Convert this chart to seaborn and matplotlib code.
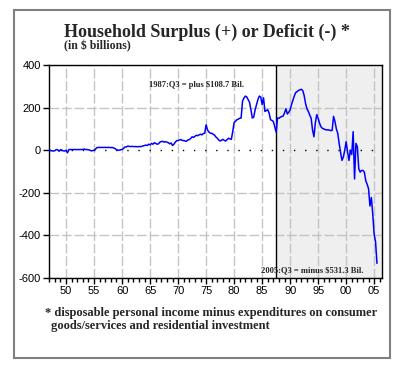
import pandas as pd
import numpy as np
import matplotlib
matplotlib.use("Agg")
import matplotlib.pyplot as plt
import seaborn as sns
from matplotlib.patches import Rectangle

# quarterly household surplus, $ billions, starting 1947:Q1
q_1940s = [0, -2, -3, -4, -2, 3, 2, -5, 2, 0, -3, -4]
q_1950s = [0, -12, 3, 3, 3, 3, 3, 3, 3, 3, 3, 3, 4, 5, 3, 3, 2, 0, -3, -2,
           0, 5, 12, 13, 13, 13, 13, 13, 13, 13, 13, 13, 12, 13, 10, 8, 2, 0, 0, 2]
q_1960s = [3, 8, 15, 15, 19, 18, 17, 18, 17, 17, 17, 16, 17, 17, 18, 20, 22, 24, 22, 28,
           25, 32, 28, 35, 32, 28, 30, 38, 40, 42, 38, 40, 38, 35, 30, 34, 22, 28, 38, 45]
q_1970s = [45, 48, 50, 46, 45, 43, 42, 48, 50, 55, 63, 60, 65, 70, 68, 72, 75, 72, 78, 80,
           119, 95, 85, 80, 79, 75, 71, 62, 56, 48, 43, 47, 51, 46, 43, 50, 56, 53, 51, 87]
q_1980s = [130, 136, 143, 146, 150, 151, 230, 245, 254, 250, 238, 225, 190, 151, 155, 190,
           215, 238, 254, 250, 214, 246, 182, 186, 190, 174, 143, 140, 135, 110, 85, 151,
           150, 155, 158, 160, 175, 195, 170, 178]
q_1990s = [190, 215, 235, 255, 271, 275, 281, 283, 286, 280, 257, 220, 194, 182, 165, 150,
           95, 63, 128, 167, 150, 127, 110, 103, 100, 97, 95, 96, 94, 92, 93, 159,
           135, 100, 79, 32, -10, -48, -32, 0]
q_2000s = [40, -8, -48, 0, -20, 87, -135, 32, 16, -87, -103, -95, -95, -103, -143, -160,
           -181, -262, -222, -300, -395, -430, -531.3]

start_year = 1947
shade_start = 1987.5
year_ticks = list(range(1950, 2006, 5))
year_labels = [f"{y % 100:02d}" for y in year_ticks]
y_ticks = [-600, -400, -200, 0, 200, 400]

vals = q_1940s + q_1950s + q_1960s + q_1970s + q_1980s + q_1990s + q_2000s
df = pd.DataFrame({"year": start_year + np.arange(len(vals)) / 4.0, "surplus": vals})

sns.set_style("white")
plt.rcParams["font.family"] = ["Liberation Sans", "DejaVu Sans"]

fig = plt.figure(figsize=(4, 3.65), dpi=100)
ax = fig.add_axes([49 / 400, 1 - 278 / 365, 333 / 400, 213 / 365])

ax.axvspan(shade_start, 2006.4, color="#efefef", zorder=0, lw=0)
grid_kw = dict(color="#c4c4c4", lw=1, linestyle=(0, (7, 2)), zorder=1)
for yr in year_ticks:
    ax.axvline(yr, **grid_kw)
for yv in y_ticks:
    if yv != 0:
        ax.axhline(yv, **grid_kw)
ax.axhline(0, color="black", lw=1, linestyle=(0, (1, 7)), zorder=1)
ax.axvline(shade_start, color="black", lw=1, zorder=2)

sns.lineplot(data=df, x="year", y="surplus", ax=ax, color="#0000ff", lw=1.1, zorder=3)

ax.set_xlim(1946.95, 2006.4)
ax.set_ylim(-600, 400)
ax.set_xticks(year_ticks)
ax.set_xticklabels(year_labels)
ax.set_xticks(range(1947, 2007), minor=True)
ax.set_yticks(y_ticks)
ax.set_yticklabels([str(v) for v in y_ticks])
ax.tick_params(axis="both", which="major", direction="out", length=4, width=1,
               colors="black", labelsize=8, pad=2)
ax.tick_params(axis="x", which="minor", direction="out", length=3, width=1, color="black")
ax.tick_params(bottom=True, left=True, which="both")
ax.tick_params(axis="y", which="minor", left=False)
ax.set_xlabel("")
ax.set_ylabel("")
for s in ax.spines.values():
    s.set_color("black")
    s.set_linewidth(1)

serif = ["Liberation Serif", "DejaVu Serif"]
ax.text(1981.8, 305, "1987:Q3 = plus \\$108.7 Bil.", ha="right", va="center",
        fontsize=6.1, weight="bold", family=serif)
ax.text(2003, -566, "2005:Q3 = minus \\$531.3 Bil.", ha="right", va="center",
        fontsize=6.1, weight="bold", family=serif)

fig.text(64 / 400, 1 - 37 / 365, "Household Surplus (+) or Deficit (-) *", ha="left",
         va="baseline", fontsize=13, weight="bold", family=serif)
fig.text(64 / 400, 1 - 49 / 365, "(in \\$ billions)", ha="left", va="baseline",
         fontsize=8.5, weight="bold", family=serif)
fig.text(45 / 400, 1 - 316 / 365,
         "* disposable personal income minus expenditures on consumer",
         ha="left", va="baseline", fontsize=9, weight="bold", family=serif)
fig.text(51 / 400, 1 - 329 / 365, "goods/services and residential investment",
         ha="left", va="baseline", fontsize=9, weight="bold", family=serif)

fig.patches.append(Rectangle((14 / 400, 1 - 358 / 365), 376 / 400, 348 / 365,
                             transform=fig.transFigure, fill=False,
                             edgecolor="#808080", lw=1.5))

plt.savefig("out.png", dpi=100)
